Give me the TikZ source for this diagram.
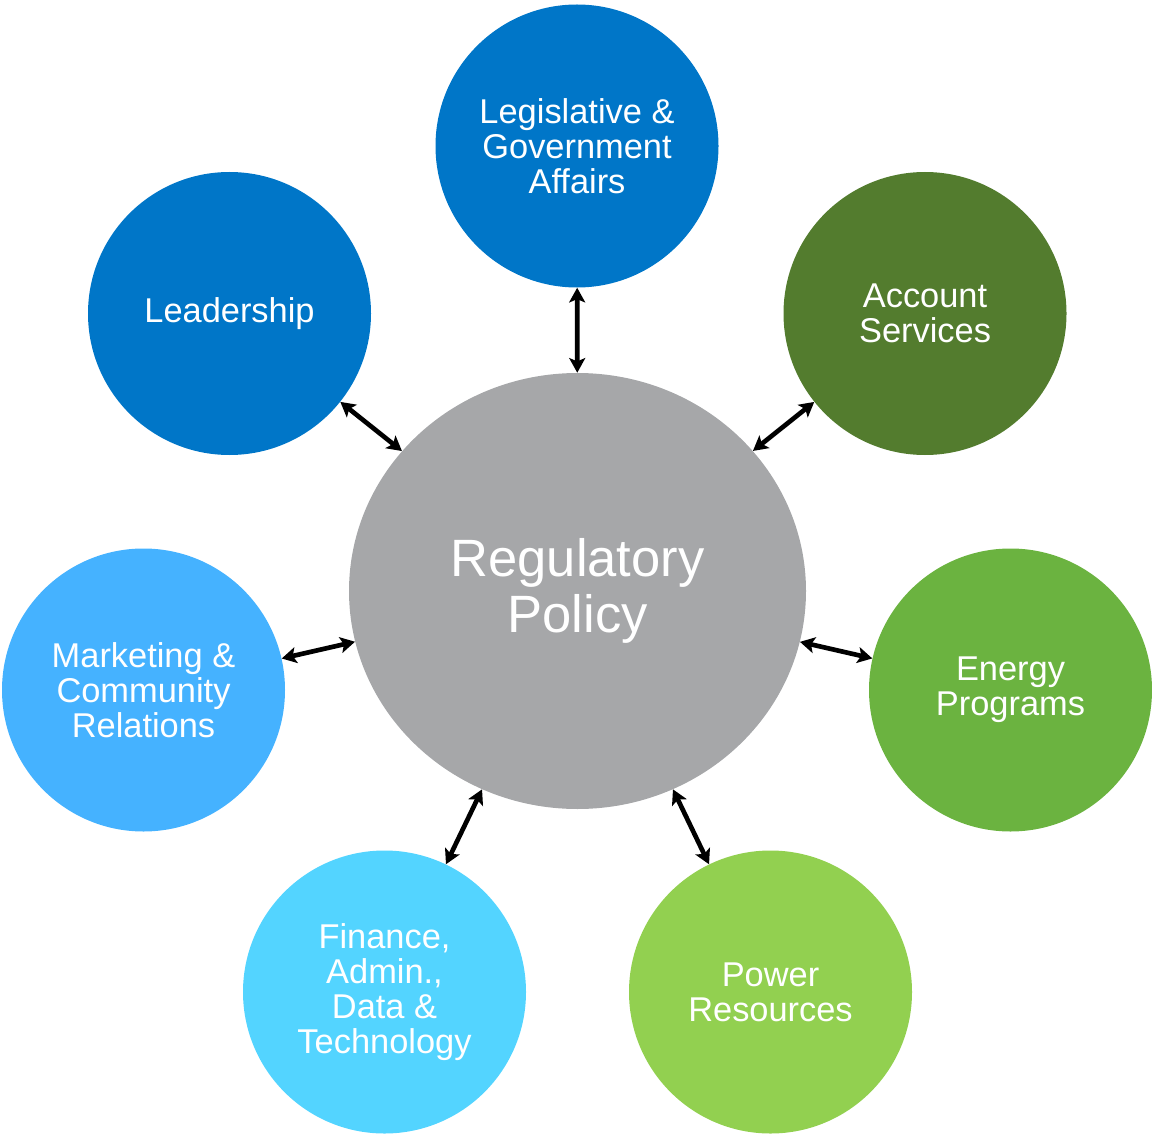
\documentclass[tikz,border=0pt]{standalone}
\usepackage{fontspec}
\setmainfont{Liberation Sans}
\usetikzlibrary{arrows.meta,shapes.geometric}

\definecolor{hubgray}{RGB}{166,167,169}
\definecolor{deepblue}{RGB}{0,118,200}
\definecolor{darkgreen}{RGB}{83,124,46}
\definecolor{midgreen}{RGB}{107,179,64}
\definecolor{lightgreen}{RGB}{146,208,80}
\definecolor{skyblue}{RGB}{69,178,255}
\definecolor{cyanblue}{RGB}{83,212,255}

\tikzset{
  unit/.style={circle, fill=#1, draw=none, minimum size=212.25pt, inner sep=0pt,
    text=white, align=center, font=\fontsize{25.8}{26.2}\selectfont},
  hub/.style={ellipse, fill=hubgray, draw=none, minimum width=342.75pt,
    minimum height=327pt, inner sep=0pt, text=white, align=center,
    font=\fontsize{39.4}{42}\selectfont},
  link/.style={line width=3.5pt, {Stealth[length=11pt,width=12pt,inset=2.5pt]}-{Stealth[length=11pt,width=12pt,inset=2.5pt]}},
}

\begin{document}
\begin{tikzpicture}[x=0.75pt, y=-0.75pt]
  \useasboundingbox (0,0) rectangle (1152,1134);

  % central hub
  \node[hub] (reg) at (577.5,591) {Regulatory\\Policy};

  % surrounding departments
  \node[unit=deepblue]   (leg)  at (577,146)  {Legislative \&\\Government\\Affairs};
  \node[unit=deepblue]   (lead) at (229.5,313.5) {Leadership};
  \node[unit=darkgreen]  (acct) at (925,313.5) {Account\\Services};
  \node[unit=skyblue]    (mkt)  at (143.5,690) {Marketing \&\\Community\\Relations};
  \node[unit=midgreen]   (enrg) at (1010.5,690) {Energy\\Programs};
  \node[unit=cyanblue]   (fin)  at (384.5,992) {Finance,\\Admin.,\\Data \&\\Technology};
  \node[unit=lightgreen] (pwr)  at (770.5,992) {Power\\Resources};

  % two-way links
  \draw[link] (leg)  -- (reg);
  \draw[link] (lead) -- (reg);
  \draw[link] (acct) -- (reg);
  \draw[link] (mkt)  -- (reg);
  \draw[link] (enrg) -- (reg);
  \draw[link] (fin)  -- (reg);
  \draw[link] (pwr)  -- (reg);
\end{tikzpicture}
\end{document}
